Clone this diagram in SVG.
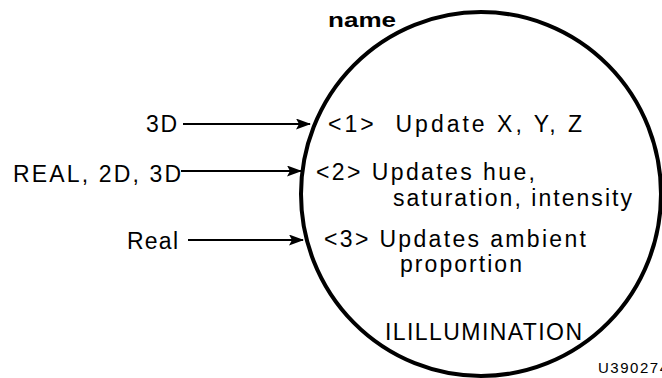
<svg xmlns="http://www.w3.org/2000/svg" width="662" height="378" viewBox="0 0 662 378">
<style>
text{font-family:"Liberation Sans",Arial,sans-serif;fill:#000}
.t{font-size:23px}
.b{font-size:21px;font-weight:bold}
.s{font-size:15px}
.c{stroke:#000;stroke-width:2.2;fill:none}
</style>
<defs>
<marker id="ah" markerWidth="15" markerHeight="11" refX="14" refY="5.5" orient="auto" markerUnits="userSpaceOnUse">
<path d="M0,0 L15,5.5 L0,11 L3,5.5 Z" fill="#000"/>
</marker>
</defs>
<rect width="662" height="378" fill="#fff"/>
<g id="node-illumination">
<ellipse cx="481" cy="194" rx="180" ry="182" fill="none" stroke="#000" stroke-width="4"/>
<text class="b" x="328" y="27" textLength="68" lengthAdjust="spacingAndGlyphs">name</text>
<text class="t" x="328" y="132" textLength="254" xml:space="preserve">&lt;1&gt;  Update X, Y, Z</text>
<text class="t" x="316" y="180" textLength="219">&lt;2&gt; Updates hue,</text>
<text class="t" x="393" y="206" textLength="239">saturation, intensity</text>
<text class="t" x="324" y="247" textLength="262">&lt;3&gt; Updates ambient</text>
<text class="t" x="400" y="272" textLength="122">proportion</text>
<text class="t" x="385" y="340" textLength="197">ILILLUMINATION</text>
</g>
<g id="inputs">
<text class="t" x="146" y="132" textLength="31">3D</text>
<text class="t" x="13" y="182" textLength="168">REAL, 2D, 3D</text>
<text class="t" x="127" y="249" textLength="51">Real</text>
</g>
<g id="connectors">
<line class="c" x1="183" y1="124" x2="310" y2="124" marker-end="url(#ah)"/>
<line class="c" x1="181" y1="171" x2="301" y2="171" marker-end="url(#ah)"/>
<line class="c" x1="188" y1="240" x2="303" y2="240" marker-end="url(#ah)"/>
</g>
<text class="s" x="598" y="373" textLength="70">U390274</text>
</svg>
